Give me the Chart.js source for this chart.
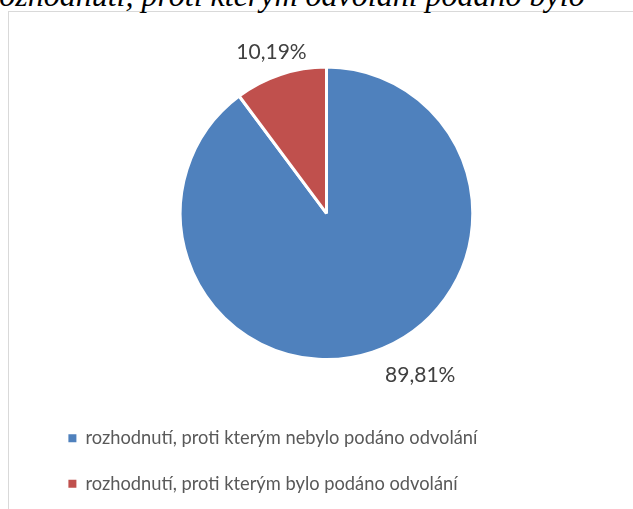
<!DOCTYPE html>
<html>
<head>
<meta charset="utf-8">
<script src="https://cdn.jsdelivr.net/npm/chart.js@4.4.1/dist/chart.umd.min.js"></script>
<style>
  body { margin: 0; background: #fff; overflow: hidden; }
  #frame { position: absolute; left: 8px; top: 11px; width: 700px; height: 600px; border: 1px solid #d9d9d9; }
  #title { position: absolute; left: -12px; top: -21px; font: italic 32px "Liberation Serif", serif; line-height: 32px; white-space: nowrap; color: #000; }
  #wrap { position: absolute; left: 0; top: 0; width: 633px; height: 509px; }
</style>
</head>
<body>
<div id="frame"></div>
<div id="title">rozhodnutí, proti kterým odvolání podáno bylo</div>
<div id="wrap"><canvas id="myChart"></canvas></div>
<script>
var categories = [
    'rozhodnutí, proti kterým nebylo podáno odvolání',
    'rozhodnutí, proti kterým bylo podáno odvolání'
];
var shares = [89.81, 10.19];
var colors = ['#4F81BD', '#C0504D'];

// percent labels outside the slices, nudged like the original
var pctLabels = {
    id: 'pctLabels',
    afterDatasetsDraw: function (chart, args, opts) {
        var ctx = chart.ctx;
        var meta = chart.getDatasetMeta(0);
        ctx.save();
        ctx.font = opts.font;
        ctx.fillStyle = opts.color;
        ctx.textAlign = 'center';
        ctx.textBaseline = 'middle';
        meta.data.forEach(function (arc, i) {
            var mid = (arc.startAngle + arc.endAngle) / 2 + opts.nudge[i] * Math.PI / 180;
            var r = arc.outerRadius + opts.dist[i];
            var x = arc.x + Math.cos(mid) * r;
            var y = arc.y + Math.sin(mid) * r;
            ctx.fillText(shares[i].toFixed(2).replace('.', ',') + '%', x, y);
        });
        ctx.restore();
    }
};

const data = {
    labels: categories,
    datasets: [{
        data: shares,
        backgroundColor: colors,
        borderColor: '#ffffff',
        borderWidth: 3,
        hoverOffset: 0
    }]
};

const config = {
    type: 'pie',
    data: data,
    options: {
        responsive: true,
        maintainAspectRatio: false,
        animation: false,
        radius: '78.3%',
        layout: { padding: { left: 41, right: 21, top: 25, bottom: 6 } },
        plugins: {
            tooltip: { enabled: false },
            legend: {
                position: 'bottom',
                align: 'start',
                labels: {
                    boxWidth: 8,
                    boxHeight: 8,
                    padding: 27.4,
                    color: '#595959',
                    font: { family: 'Lato', size: 18.3 },
                    generateLabels: function (chart) {
                        var items = Chart.overrides.pie.plugins.legend.labels.generateLabels(chart);
                        items.forEach(function (it) {
                            it.lineWidth = 0;
                            it.strokeStyle = it.fillStyle;
                        });
                        return items;
                    }
                }
            },
            pctLabels: {
                font: '21px Lato',
                color: '#404040',
                nudge: [-11.7, -0.5],
                dist: [41, 24]
            }
        }
    },
    plugins: [pctLabels]
};

const myChart = new Chart(document.getElementById('myChart'), config);
</script>
</body>
</html>
